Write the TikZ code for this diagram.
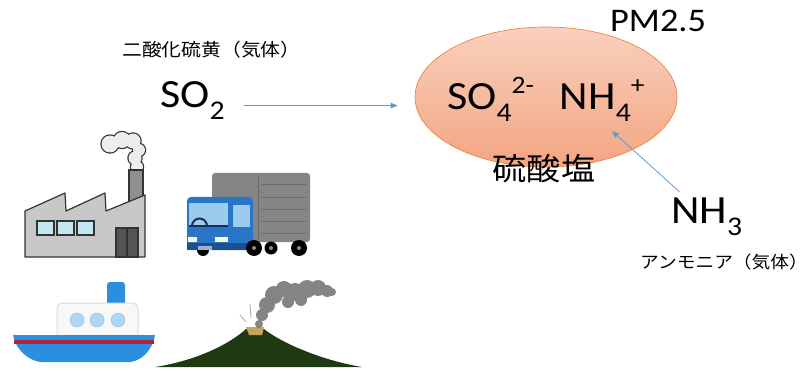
\documentclass[tikz,border=0pt]{standalone}
\usepackage{fontspec}
\setmainfont{Carlito}[FakeStretch=1.1]
\newfontfamily\jp{Noto Sans CJK JP}[FakeStretch=1.1]
\usepackage{tikz}
\usetikzlibrary{arrows.meta,positioning,shapes.geometric}
\definecolor{arrc}{HTML}{5B9BD5}
\definecolor{edgec}{HTML}{ED7D31}
\definecolor{pmtop}{HTML}{F9D0BE}
\definecolor{pmbot}{HTML}{F3A582}
\definecolor{inkc}{HTML}{333333}
\definecolor{smokec}{HTML}{EDEDED}
\definecolor{chimc}{HTML}{8F8F8F}
\definecolor{wallc}{HTML}{C8C8C8}
\definecolor{glassc}{HTML}{C4E6F2}
\definecolor{doorc}{HTML}{555555}
\definecolor{cargoc}{HTML}{858585}
\definecolor{stripec}{HTML}{6A6A6A}
\definecolor{cabc}{HTML}{2A76C6}
\definecolor{bumperc}{HTML}{1D4F92}
\definecolor{glasstc}{HTML}{9CCBF0}
\definecolor{wheelc}{HTML}{1A2F57}
\definecolor{lampc}{HTML}{FFF4CC}
\definecolor{platec}{HTML}{9FB3C8}
\definecolor{hubc}{HTML}{8A8A8A}
\definecolor{hullc}{HTML}{2B8FE0}
\definecolor{redc}{HTML}{B3243B}
\definecolor{cabinc}{HTML}{F8F8F8}
\definecolor{cabinedge}{HTML}{DADADA}
\definecolor{portc}{HTML}{AFD7F3}
\definecolor{portedge}{HTML}{98BCD8}
\definecolor{mountc}{HTML}{1F3A12}
\definecolor{craterc}{HTML}{C9A35C}
\definecolor{ashc}{HTML}{6E6E6E}
\newcommand{\chsub}[1]{\raisebox{-0.3em}{\fontsize{27}{30}\selectfont #1}}
\newcommand{\chsup}[1]{\raisebox{0.42em}{\fontsize{25}{30}\selectfont #1}}
\tikzset{
  ar/.style={-{Triangle[length=7pt,width=5.5pt]},line width=0.8pt,arrc},
  chem/.style={inner sep=0pt,anchor=base west,font=\fontsize{40}{48}\selectfont},
  jtxt/.style={inner sep=0pt,font=\jp\fontsize{18}{22}\selectfont},
  particle/.style={ellipse,draw=edgec,line width=0.6pt,top color=pmtop,bottom color=pmbot,
    minimum width=262pt,minimum height=140pt},
  ol/.style={draw=inkc,line width=1.2pt}
}

\begin{document}
\begin{tikzpicture}[x=1pt,y=-1pt]
\useasboundingbox (0,0) rectangle (810,371);

% factory
\draw[inkc,line width=2.4pt] (110,144) circle (8.5pt) (122,140) circle (8pt) (133,141) circle (7.5pt)
  (139,150) circle (6pt) (135,158) circle (6.5pt) (137,167) circle (6pt);
\fill[smokec] (110,144) circle (8.5pt) (122,140) circle (8pt) (133,141) circle (7.5pt)
  (139,150) circle (6pt) (135,158) circle (6.5pt) (137,167) circle (6pt);
\draw[ol,fill=chimc] (129,170) rectangle (143,205);
\draw[ol,fill=wallc,line join=round] (25,257) -- (25,211) -- (65,193) -- (66,211) -- (105,193)
  -- (106,211) -- (145,195) -- (145,257) -- cycle;
\foreach \x in {37,57,77}
  \draw[ol,fill=glassc] (\x,221) rectangle ++(17,14);
\draw[ol,fill=doorc] (116,228) rectangle (138,257);
\draw[ol] (127,228) -- (127,257);

% truck
\fill[black] (203,250) circle (6pt);
\fill[cargoc,rounded corners=3pt] (212,173) rectangle (310,242);
\foreach \y in {185,198,210,222,233}
  \draw[stripec,line width=1pt] (262,\y) -- (306,\y);
\draw[stripec,line width=1pt] (258,176) -- (258,240);
\fill[cabc,rounded corners=4pt] (187,197) rectangle (253,250);
\fill[bumperc] (187,243) rectangle (253,250);
\fill[glasstc] (189,203) rectangle (228,225);
\fill[glasstc] (233,205) rectangle (250,227);
\draw[wheelc,line width=2pt] (192,226) arc (180:0:7.5pt);
\draw[wheelc,line width=2pt] (189,226) -- (228,226);
\fill[lampc] (188,237) rectangle (197,242);
\fill[lampc] (215,237) rectangle (228,242);
\fill[platec] (198,246) rectangle (212,250);
\foreach \x/\r in {271/6.5,254/8,299/8} {
  \fill[black] (\x,248) circle (\r pt);
  \fill[hubc] (\x,248) circle (2pt);
}

% ship
\fill[hullc,rounded corners=3pt] (107,282) rectangle (125,310);
\draw[cabinedge,fill=cabinc,line width=1pt,rounded corners=6pt] (57,303) rectangle (138,340);
\foreach \x in {77,97,118}
  \draw[portedge,fill=portc] (\x,320) circle (7pt);
\fill[hullc] (13,335) -- (155,335) .. controls (152,352) and (140,361) .. (130,362) -- (40,362)
  .. controls (28,360) and (16,350) .. (13,335) -- cycle;
\fill[redc] (14,340) rectangle (154,344);

% volcano
\fill[mountc] (155,367) .. controls (200,360) and (232,342) .. (246,329) -- (264,329)
  .. controls (280,342) and (320,360) .. (362,367) -- cycle;
\fill[craterc] (246,327) -- (264,327) -- (262,335) -- (249,335) -- cycle;
\fill[ashc,opacity=0.85] (259,324) circle (4pt) (262,315) circle (6pt) (267,305) circle (8pt)
  (274,295) circle (9pt) (284,289) circle (8pt) (295,292) circle (9pt) (307,289) circle (9pt)
  (318,288) circle (8pt) (327,291) circle (6pt) (332,292) circle (4pt) (288,302) circle (6pt)
  (301,300) circle (6pt);
\draw[ashc!60,line width=0.8pt] (251,318) -- (250,304) (246,322) -- (240,315);

% reaction
\node[jtxt,anchor=west] (so2name) at (122,50) {二酸化硫黄（気体）};
\node[chem] (so2) at (160,108) {SO\chsub{2}};
\node[particle] (pm) at (546,97) {};
\node[chem,font=\fontsize{33}{40}\selectfont] (pmname) at (610,32) {PM2.5};
\node[chem] (ion) at (447,110) {SO\chsub{4}\chsup{2-}\hspace{26pt}NH\chsub{4}\chsup{+}};
\node[inner sep=0pt,font=\jp\fontsize{31}{36}\selectfont] (salt) at (544,169) {硫酸塩};
\node[chem] (nh3) at (671,223) {NH\chsub{3}};
\node[jtxt,anchor=west,font=\jp\fontsize{17}{20}\selectfont] (nh3name) at (640,262) {アンモニア（気体）};
\coordinate (hit) at (612,131);
\draw[ar,shorten <=19pt,shorten >=17pt] (so2.mid east) -- (so2.mid east -| pm.west);
\draw[ar,shorten <=8pt] (nh3) -- (hit);
\end{tikzpicture}
\end{document}
